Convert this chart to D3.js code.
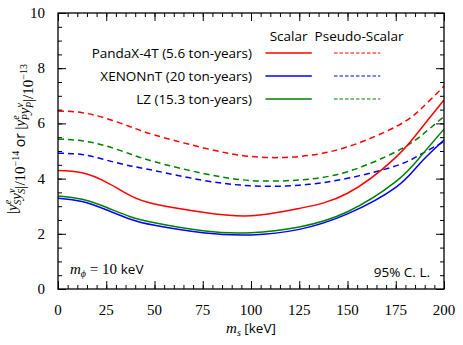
<!DOCTYPE html>
<html>
<head>
<meta charset="utf-8">
<script src="https://cdn.jsdelivr.net/npm/d3@7"></script>
<style>
  body { margin: 0; background: #fff; }
  text { fill: #000; }
  .num { font-family: "Liberation Serif", "DejaVu Serif", serif; font-size: 15px; }
  .sans { font-family: "Open Sans", "DejaVu Sans", sans-serif; font-size: 13.5px; }
  .it { font-family: "Liberation Serif", serif; font-style: italic; }
</style>
</head>
<body>
<div id="chart"></div>
<script>
// m_s values [keV] where the curves were read
var ms = [0, 12.5, 25, 37.5, 50, 75, 100, 125, 150, 175, 187.5, 200];

// Scalar limits (units of 1e-14)
var pandaScalar = [4.29, 4.21, 3.87, 3.38, 3.08, 2.78, 2.65, 2.92, 3.47, 4.77, 5.76, 6.85];
var xenonScalar = [3.29, 3.17, 2.87, 2.53, 2.31, 2.04, 1.96, 2.16, 2.72, 3.68, 4.55, 5.40];
var lzScalar    = [3.37, 3.25, 2.96, 2.62, 2.40, 2.11, 2.04, 2.25, 2.80, 3.89, 4.77, 5.79];

// Pseudo-scalar limits (units of 1e-13)
var pandaPseudo = [6.45, 6.39, 6.18, 5.88, 5.58, 5.12, 4.80, 4.80, 5.15, 5.88, 6.49, 7.35];
var xenonPseudo = [4.92, 4.87, 4.67, 4.46, 4.29, 3.94, 3.74, 3.76, 4.01, 4.46, 4.86, 5.34];
var lzPseudo    = [5.43, 5.37, 5.18, 4.89, 4.61, 4.19, 3.93, 3.95, 4.25, 4.97, 5.52, 6.25];

var experiments = ["PandaX-4T (5.6 ton-years)", "XENONnT (20 ton-years)", "LZ (15.3 ton-years)"];
var xTicks = [0, 25, 50, 75, 100, 125, 150, 175, 200];
var yTicks = [0, 2, 4, 6, 8, 10];

var colors = ["#ff0000", "#0000ff", "#008000"];
var scalarSets = [pandaScalar, xenonScalar, lzScalar];
var pseudoSets = [pandaPseudo, xenonPseudo, lzPseudo];

var W = 463, H = 345;
var margin = {top: 13, right: 19, bottom: 56, left: 58};
var width = W - margin.left - margin.right;
var height = H - margin.top - margin.bottom;

var svg = d3.select("#chart").append("svg")
    .attr("width", W).attr("height", H)
  .append("g")
    .attr("transform", "translate(" + margin.left + "," + margin.top + ")");

var x = d3.scaleLinear().domain([0, 200]).range([0, width]);
var y = d3.scaleLinear().domain([0, 10]).range([height, 0]);

svg.append("clipPath").attr("id", "clip")
  .append("rect").attr("width", width).attr("height", height);

// curves
var line = d3.line()
  .x(function(d) { return x(d[0]); })
  .y(function(d) { return y(d[1]); })
  .curve(d3.curveNatural);

var plot = svg.append("g").attr("clip-path", "url(#clip)");

pseudoSets.forEach(function(vals, i) {
  plot.append("path")
    .datum(ms.map(function(m, j) { return [m, vals[j]]; }))
    .attr("fill", "none")
    .attr("stroke", colors[i])
    .attr("stroke-width", 1.5)
    .attr("stroke-dasharray", "6,4")
    .attr("d", line);
});
scalarSets.forEach(function(vals, i) {
  plot.append("path")
    .datum(ms.map(function(m, j) { return [m, vals[j]]; }))
    .attr("fill", "none")
    .attr("stroke", colors[i])
    .attr("stroke-width", 1.5)
    .attr("d", line);
});

// axes with inward ticks on all four sides
function ticksFor(axis, scale, majors, minorStep, pos) {
  var minors = d3.range(scale.domain()[0], scale.domain()[1] + 1e-9, minorStep);
  svg.append("g").attr("transform", pos).call(axis(scale).tickValues(minors).tickSize(-4).tickFormat(""));
  svg.append("g").attr("transform", pos).call(axis(scale).tickValues(majors).tickSize(-8).tickFormat(""));
}

ticksFor(d3.axisBottom, x, xTicks, 5, "translate(0," + height + ")");
ticksFor(d3.axisTop, x, xTicks, 5, "translate(0,0)");
ticksFor(d3.axisLeft, y, yTicks, 0.5, "translate(0,0)");
ticksFor(d3.axisRight, y, yTicks, 0.5, "translate(" + width + ",0)");

svg.selectAll(".domain").remove();
svg.selectAll(".tick line").attr("stroke", "#000").attr("stroke-width", 1);

svg.append("rect")
  .attr("width", width).attr("height", height)
  .attr("fill", "none").attr("stroke", "#000").attr("stroke-width", 1.3);

// tick labels
svg.selectAll(".xlab").data(xTicks).enter().append("text")
  .attr("class", "num")
  .attr("x", function(d) { return x(d); })
  .attr("y", height + 26)
  .attr("text-anchor", "middle")
  .text(function(d) { return d; });

svg.selectAll(".ylab").data(yTicks).enter().append("text")
  .attr("class", "num")
  .attr("x", -13)
  .attr("y", function(d) { return y(d) + 5; })
  .attr("text-anchor", "end")
  .text(function(d) { return d; });

// x title
var xt = svg.append("text")
  .attr("x", width / 2)
  .attr("y", height + 44)
  .attr("text-anchor", "middle");
xt.append("tspan").attr("class", "it").style("font-size", "15px").text("m");
xt.append("tspan").attr("class", "it").style("font-size", "10px").attr("dy", 3).text("s");
xt.append("tspan").attr("class", "sans").attr("dy", -3).text(" [keV]");

// y title
var yt = svg.append("text")
  .attr("transform", "translate(-41," + (height / 2 - 12) + ") rotate(-90)")
  .attr("text-anchor", "middle");

function yy(sub, up) {
  yt.append("tspan").attr("class", "it").style("font-size", "15px").text("y");
  yt.append("tspan").attr("class", "it").style("font-size", "10px").attr("dy", -6).text(up);
  yt.append("tspan").attr("class", "it").style("font-size", "10px").attr("dx", -5).attr("dy", 10).text(sub);
  yt.append("tspan").style("font-size", "15px").attr("dy", -4).text("");
}
yt.append("tspan").attr("class", "num").style("font-size", "15px").text("|");
yy("S", "e");
yy("S", "ν");
yt.append("tspan").attr("class", "num").style("font-size", "15px").text("|/10");
yt.append("tspan").attr("class", "num").style("font-size", "10px").attr("dy", -6).text("−14");
yt.append("tspan").attr("class", "sans").style("font-size", "14px").attr("dy", 6).text(" or ");
yt.append("tspan").attr("class", "num").style("font-size", "15px").text("|");
yy("P", "e");
yy("P", "ν");
yt.append("tspan").attr("class", "num").style("font-size", "15px").text("|/10");
yt.append("tspan").attr("class", "num").style("font-size", "10px").attr("dy", -6).text("−13");

// legend
var lx = x(100.5), sx0 = x(107.5), sx1 = x(131.5), px0 = x(143), px1 = x(167);
svg.append("text").attr("class", "sans").attr("x", (sx0 + sx1) / 2).attr("y", 28)
  .attr("text-anchor", "middle").text("Scalar");
svg.append("text").attr("class", "sans").attr("x", x(156)).attr("y", 28)
  .attr("text-anchor", "middle").text("Pseudo-Scalar");

var rowY = [40, 63, 86];
experiments.forEach(function(name, i) {
  svg.append("text").attr("class", "sans")
    .attr("x", lx).attr("y", rowY[i] + 5)
    .attr("text-anchor", "end").text(name);
  svg.append("line")
    .attr("x1", sx0).attr("x2", sx1).attr("y1", rowY[i]).attr("y2", rowY[i])
    .attr("stroke", colors[i]).attr("stroke-width", 1.3);
  svg.append("line")
    .attr("x1", px0).attr("x2", px1).attr("y1", rowY[i]).attr("y2", rowY[i])
    .attr("stroke", colors[i]).attr("stroke-width", 1.1)
    .attr("stroke-dasharray", "3.5,2");
});

// annotations
var mp = svg.append("text").attr("x", 12).attr("y", height - 15);
mp.append("tspan").attr("class", "it").style("font-size", "15px").text("m");
mp.append("tspan").attr("class", "it").style("font-size", "10px").attr("dy", 3).text("ϕ");
mp.append("tspan").attr("class", "num").style("font-size", "15px").attr("dy", -3).text(" = 10 ");
mp.append("tspan").attr("class", "sans").text("keV");

svg.append("text").attr("class", "sans")
  .attr("x", width - 14).attr("y", height - 12)
  .attr("text-anchor", "end").text("95% C. L.");
</script>
</body>
</html>
